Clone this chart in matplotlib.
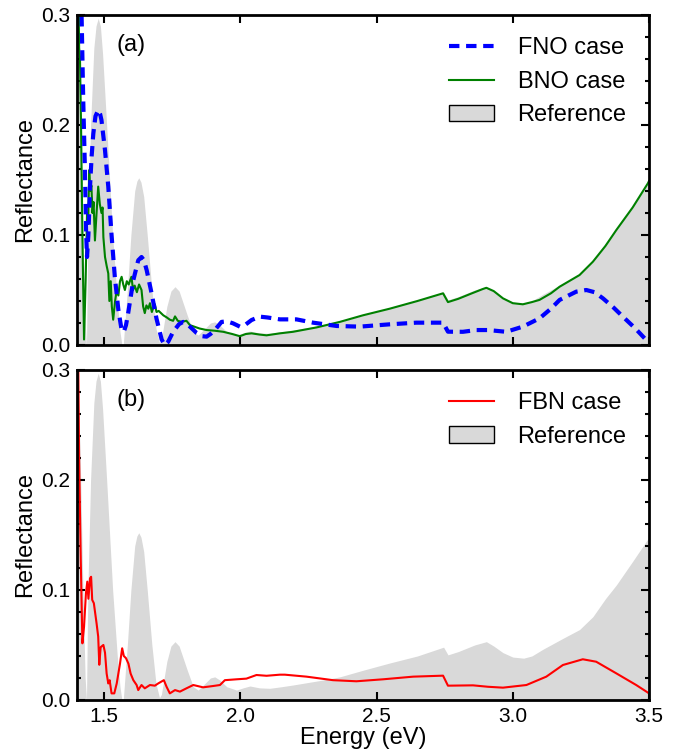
import numpy as np
import matplotlib
matplotlib.use("Agg")
import matplotlib.pyplot as plt
from matplotlib.patches import Patch
from matplotlib.lines import Line2D
from matplotlib.ticker import MultipleLocator

plt.rcParams['font.family'] = ['Liberation Sans', 'DejaVu Sans']

# reference spectrum (gray fill)
ref_e = [1.400, 1.412, 1.422, 1.430, 1.435, 1.440, 1.450, 1.462, 1.470, 1.478, 1.486, 1.494,
         1.509, 1.520, 1.531, 1.548, 1.558, 1.565, 1.570, 1.585, 1.598, 1.612, 1.620, 1.627,
         1.635, 1.645, 1.658, 1.675, 1.690, 1.703, 1.710, 1.730, 1.745, 1.760, 1.775, 1.790,
         1.805, 1.827, 1.845, 1.870, 1.890, 1.906, 1.925, 1.950, 1.986, 2.010, 2.035, 2.070,
         2.108, 2.150, 2.193, 2.300, 2.365, 2.450, 2.548, 2.650, 2.746, 2.762, 2.800, 2.860,
         2.903, 2.930, 2.964, 3.000, 3.040, 3.070, 3.110, 3.184, 3.245, 3.294, 3.340, 3.380,
         3.440, 3.500]
ref_r = [0.330, 0.220, 0.100, 0.020, 0.000, 0.100, 0.200, 0.270, 0.290, 0.297, 0.290, 0.265,
         0.200, 0.150, 0.100, 0.040, 0.012, 0.000, 0.000, 0.050, 0.100, 0.140, 0.149, 0.152,
         0.148, 0.135, 0.100, 0.050, 0.015, 0.002, 0.005, 0.035, 0.049, 0.053, 0.049, 0.038,
         0.027, 0.012, 0.009, 0.015, 0.020, 0.021, 0.018, 0.012, 0.009, 0.011, 0.0127, 0.011,
         0.0106, 0.012, 0.0136, 0.018, 0.021, 0.027, 0.0336, 0.040, 0.048, 0.041, 0.044, 0.050,
         0.053, 0.049, 0.043, 0.039, 0.038, 0.040, 0.046, 0.056, 0.064, 0.0757, 0.092, 0.1045,
         0.126, 0.148]

# FNO case (blue dashed)
fno_e = [1.412, 1.417, 1.423, 1.429, 1.434, 1.437, 1.442, 1.448, 1.454, 1.460, 1.468, 1.478,
         1.485, 1.490, 1.503, 1.515, 1.527, 1.539, 1.552, 1.564, 1.572, 1.580, 1.588, 1.607,
         1.625, 1.637, 1.646, 1.656, 1.674, 1.692, 1.711, 1.722, 1.735, 1.753, 1.775, 1.790,
         1.805, 1.822, 1.839, 1.860, 1.876, 1.890, 1.906, 1.931, 1.950, 1.973, 1.998, 2.016,
         2.041, 2.071, 2.100, 2.145, 2.206, 2.267, 2.353, 2.438, 2.548, 2.646, 2.744, 2.762,
         2.817, 2.866, 2.909, 2.976, 3.037, 3.098, 3.140, 3.172, 3.233, 3.270, 3.300, 3.331,
         3.370, 3.404, 3.450, 3.490, 3.500]
fno_r = [0.340, 0.300, 0.223, 0.162, 0.100, 0.080, 0.100, 0.144, 0.172, 0.192, 0.208, 0.2136,
         0.210, 0.2045, 0.177, 0.144, 0.100, 0.062, 0.032, 0.0136, 0.012, 0.018, 0.029, 0.059,
         0.077, 0.080, 0.077, 0.068, 0.047, 0.024, 0.005, 0.000, 0.003, 0.012, 0.019, 0.021,
         0.019, 0.015, 0.011, 0.008, 0.0076, 0.010, 0.0136, 0.021, 0.0215, 0.0197, 0.0167, 0.018,
         0.0227, 0.0258, 0.025, 0.0233, 0.0233, 0.0203, 0.0173, 0.0167, 0.0188, 0.0203, 0.0203, 0.0121,
         0.012, 0.0136, 0.0136, 0.012, 0.0167, 0.0242, 0.033, 0.041, 0.0485, 0.050, 0.048, 0.0424,
         0.034, 0.0258, 0.015, 0.0045, 0.003]

# BNO case (green)
bno_e = [1.400, 1.404, 1.406, 1.408, 1.411, 1.415, 1.420, 1.426, 1.432, 1.437, 1.441, 1.445,
         1.449, 1.453, 1.457, 1.461, 1.466, 1.472, 1.478, 1.484, 1.490, 1.494, 1.497, 1.503,
         1.509, 1.515, 1.519, 1.524, 1.528, 1.533, 1.540, 1.546, 1.552, 1.558, 1.564, 1.570,
         1.576, 1.583, 1.590, 1.600, 1.606, 1.612, 1.620, 1.628, 1.637, 1.643, 1.649, 1.655,
         1.662, 1.668, 1.675, 1.680, 1.686, 1.692, 1.700, 1.717, 1.730, 1.741, 1.753, 1.760,
         1.770, 1.785, 1.802, 1.815, 1.827, 1.850, 1.876, 1.905, 1.937, 1.970, 1.998, 2.020,
         2.041, 2.070, 2.096, 2.145, 2.193, 2.280, 2.365, 2.450, 2.548, 2.650, 2.744, 2.762,
         2.800, 2.850, 2.891, 2.903, 2.930, 2.964, 3.000, 3.037, 3.070, 3.098, 3.140, 3.172,
         3.245, 3.294, 3.340, 3.380, 3.440, 3.496, 3.500]
bno_r = [0.310, 0.290, 0.310, 0.270, 0.262, 0.200, 0.100, 0.005, 0.060, 0.120, 0.110, 0.159,
         0.140, 0.145, 0.120, 0.130, 0.095, 0.120, 0.144, 0.128, 0.120, 0.125, 0.098, 0.080,
         0.072, 0.065, 0.040, 0.058, 0.035, 0.023, 0.040, 0.050, 0.045, 0.058, 0.062, 0.055,
         0.050, 0.058, 0.055, 0.062, 0.050, 0.054, 0.048, 0.055, 0.050, 0.035, 0.029, 0.036,
         0.033, 0.038, 0.030, 0.034, 0.037, 0.030, 0.031, 0.027, 0.025, 0.023, 0.022, 0.026,
         0.022, 0.021, 0.022, 0.018, 0.017, 0.015, 0.0136, 0.013, 0.012, 0.010, 0.008, 0.010,
         0.0106, 0.0095, 0.0088, 0.0106, 0.012, 0.016, 0.021, 0.027, 0.033, 0.040, 0.047, 0.039,
         0.042, 0.047, 0.051, 0.052, 0.049, 0.0424, 0.038, 0.037, 0.039, 0.041, 0.047, 0.053,
         0.0636, 0.0757, 0.090, 0.1045, 0.125, 0.147, 0.149]

# FBN case (red)
fbn_e = [1.402, 1.405, 1.408, 1.414, 1.420, 1.426, 1.433, 1.438, 1.442, 1.448, 1.452, 1.456,
         1.462, 1.472, 1.478, 1.482, 1.487, 1.497, 1.503, 1.509, 1.515, 1.520, 1.527, 1.537,
         1.546, 1.552, 1.558, 1.566, 1.572, 1.580, 1.589, 1.597, 1.607, 1.619, 1.625, 1.637,
         1.649, 1.668, 1.686, 1.698, 1.719, 1.729, 1.741, 1.760, 1.778, 1.802, 1.827, 1.863,
         1.900, 1.925, 1.943, 1.986, 2.022, 2.059, 2.096, 2.145, 2.163, 2.243, 2.340, 2.426,
         2.524, 2.634, 2.744, 2.762, 2.854, 2.909, 2.964, 3.050, 3.123, 3.184, 3.257, 3.306,
         3.380, 3.453, 3.496]
fbn_r = [0.310, 0.300, 0.218, 0.127, 0.0515, 0.0667, 0.097, 0.1076, 0.092, 0.1106, 0.112, 0.091,
         0.088, 0.0697, 0.0576, 0.032, 0.048, 0.050, 0.043, 0.024, 0.015, 0.018, 0.006, 0.006,
         0.015, 0.024, 0.033, 0.047, 0.040, 0.038, 0.033, 0.024, 0.018, 0.0136, 0.009, 0.0136,
         0.0106, 0.0136, 0.013, 0.015, 0.018, 0.012, 0.006, 0.009, 0.0076, 0.0106, 0.0136, 0.0115,
         0.0127, 0.0136, 0.018, 0.0188, 0.0194, 0.0227, 0.022, 0.023, 0.023, 0.0212, 0.018, 0.017,
         0.0188, 0.0212, 0.0221, 0.013, 0.0133, 0.012, 0.0112, 0.0136, 0.0212, 0.0318, 0.037, 0.0348,
         0.0242, 0.0136, 0.0067]

gray = '#d9d9d9'
fs = 17

fig = plt.figure(figsize=(6.81, 7.5), dpi=100)
ax1 = fig.add_axes([0.113, 0.54, 0.840, 0.44])
ax2 = fig.add_axes([0.113, 0.0667, 0.840, 0.44])

def style(ax):
    ax.set_xlim(1.4, 3.5)
    ax.set_ylim(0, 0.3)
    ax.xaxis.set_major_locator(MultipleLocator(0.5))
    ax.yaxis.set_major_locator(MultipleLocator(0.1))
    ax.yaxis.set_minor_locator(MultipleLocator(0.02))
    ax.tick_params(which='both', direction='in', top=True, right=True, width=1.5,
                   labelsize=15, pad=5)
    ax.tick_params(which='major', length=6)
    ax.tick_params(which='minor', length=3)
    for s in ax.spines.values():
        s.set_linewidth(2)
    ax.set_ylabel('Reflectance', fontsize=fs, labelpad=3)

# (a)
ax1.fill_between(ref_e, ref_r, 0, color=gray, lw=0)
ax1.plot(bno_e, bno_r, color='green', lw=1.5)
ax1.plot(fno_e, fno_r, color='blue', lw=3, ls=(0, (2.5, 1.6)))
style(ax1)
ax1.tick_params(labelbottom=False)
ax1.text(0.07, 0.91, '(a)', transform=ax1.transAxes, fontsize=fs, va='center')
h1 = [Line2D([], [], color='blue', lw=3, ls=(0, (2.5, 1.6))),
      Line2D([], [], color='green', lw=1.5),
      Patch(facecolor=gray, edgecolor='black', lw=1)]
ax1.legend(h1, ['FNO case', 'BNO case', 'Reference'], loc='upper right', frameon=False,
           fontsize=fs, handlelength=1.9, handletextpad=1.0, labelspacing=0.48,
           borderaxespad=0.55)

# (b)
ax2.fill_between(ref_e, ref_r, 0, color=gray, lw=0)
ax2.plot(fbn_e, fbn_r, color='red', lw=1.5)
style(ax2)
ax2.set_xlabel('Energy (eV)', fontsize=fs, labelpad=1)
ax2.text(0.07, 0.91, '(b)', transform=ax2.transAxes, fontsize=fs, va='center')
h2 = [Line2D([], [], color='red', lw=1.5),
      Patch(facecolor=gray, edgecolor='black', lw=1)]
ax2.legend(h2, ['FBN case', 'Reference'], loc='upper right', frameon=False,
           fontsize=fs, handlelength=1.9, handletextpad=1.0, labelspacing=0.48,
           borderaxespad=0.55)

fig.savefig('out.png', dpi=100)
